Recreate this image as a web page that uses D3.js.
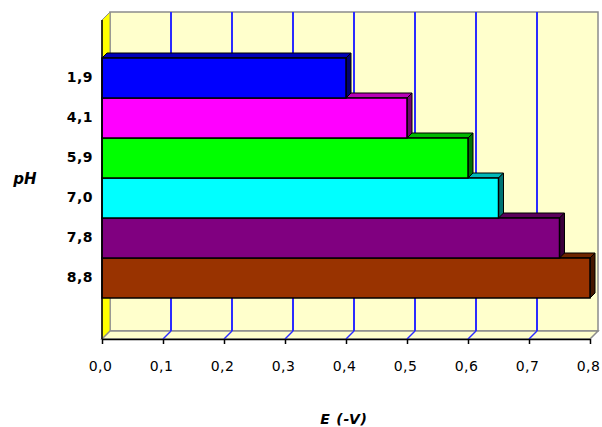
<!DOCTYPE html>
<html>
<head>
<meta charset="utf-8">
<script src="https://cdn.jsdelivr.net/npm/d3@7/dist/d3.min.js"></script>
<style>
  body { margin: 0; background: #fff; }
  text { font-family: "DejaVu Sans", sans-serif; }
</style>
</head>
<body>
<script>
// data
var phLabels = ["1,9", "4,1", "5,9", "7,0", "7,8", "8,8"];
var potentials = [0.40, 0.50, 0.60, 0.65, 0.75, 0.80];
var xTicks = [0, 0.1, 0.2, 0.3, 0.4, 0.5, 0.6, 0.7, 0.8];
var barColors = ["#0000ff", "#ff00ff", "#00ff00", "#00ffff", "#800080", "#993300"];

function init() {
    var w = 602, h = 427;
    var floorY = 339, topY = 20;
    var depth = 8;      // wall depth
    var barDepth = 5;   // bar depth

    var xScale = d3.scaleLinear()
                    .domain([0, 0.8])
                    .range([102, 590]);
    var yScale = d3.scaleBand()
                    .domain(phLabels)
                    .range([18, 338])
                    .paddingInner(0)
                    .paddingOuter(1);

    var svg = d3.select("body").append("svg")
                .attr("width", w)
                .attr("height", h);

    var x0 = xScale(0), x1 = xScale(0.8);

    // back wall
    svg.append("rect")
        .attr("x", x0 + depth).attr("y", topY - depth)
        .attr("width", x1 - x0).attr("height", floorY - topY)
        .attr("fill", "#ffffcc")
        .attr("stroke", "#8c8c8c").attr("stroke-width", 1.5);

    // left wall
    svg.append("polygon")
        .attr("points", [[x0, topY], [x0 + depth, topY - depth], [x0 + depth, floorY - depth], [x0, floorY]].join(" "))
        .attr("fill", "#ffff00")
        .attr("stroke", "#8c8c8c").attr("stroke-width", 1);

    // floor
    svg.append("polygon")
        .attr("points", [[x0, floorY], [x0 + depth, floorY - depth], [x1 + depth, floorY - depth], [x1, floorY]].join(" "))
        .attr("fill", "#ffffcc")
        .attr("stroke", "#8c8c8c").attr("stroke-width", 1.5);

    // grid lines on back wall and floor
    var inner = xTicks.filter(d => d > 0 && d < 0.8);
    svg.selectAll("line.grid")
        .data(inner).enter().append("line")
        .attr("class", "grid")
        .attr("x1", d => Math.round(xScale(d)) + depth).attr("x2", d => Math.round(xScale(d)) + depth)
        .attr("y1", topY - depth).attr("y2", floorY - depth)
        .attr("stroke", "#2b2bff").attr("stroke-width", 2);
    svg.selectAll("line.fgrid")
        .data(inner).enter().append("line")
        .attr("class", "fgrid")
        .attr("x1", d => xScale(d) + depth).attr("x2", d => xScale(d))
        .attr("y1", floorY - depth).attr("y2", floorY)
        .attr("stroke", "#2b2bff").attr("stroke-width", 1.5);

    // bars, drawn from bottom to top so upper fronts cover lower tops
    var bars = phLabels.map((p, i) => ({ph: p, v: potentials[i], c: barColors[i]})).reverse();
    var g = svg.selectAll("g.bar").data(bars).enter().append("g").attr("class", "bar");

    function shade(c, k) {
        var r = d3.rgb(c);
        return d3.rgb(r.r * k, r.g * k, r.b * k).formatHex();
    }
    // top face
    g.append("polygon")
        .attr("points", d => {
            var y = yScale(d.ph), xe = xScale(d.v);
            return [[x0, y], [x0 + barDepth, y - barDepth], [xe + barDepth, y - barDepth], [xe, y]].join(" ");
        })
        .attr("fill", d => shade(d.c, 0.72))
        .attr("stroke", "#000").attr("stroke-width", 1).attr("stroke-linejoin", "round");
    // side face
    g.append("polygon")
        .attr("points", d => {
            var y = yScale(d.ph), xe = xScale(d.v), b = y + yScale.bandwidth();
            return [[xe, y], [xe + barDepth, y - barDepth], [xe + barDepth, b - barDepth], [xe, b]].join(" ");
        })
        .attr("fill", d => shade(d.c, 0.45))
        .attr("stroke", "#000").attr("stroke-width", 1).attr("stroke-linejoin", "round");
    // front face
    g.append("rect")
        .attr("x", x0)
        .attr("y", d => yScale(d.ph))
        .attr("width", d => xScale(d.v) - x0)
        .attr("height", yScale.bandwidth())
        .attr("fill", d => d.c)
        .attr("stroke", "#000").attr("stroke-width", 1.5);

    // x axis
    var xAxis = d3.axisBottom(xScale)
                  .tickValues(xTicks)
                  .tickSize(5)
                  .tickSizeOuter(0)
                  .tickFormat(d => d3.format(".1f")(d).replace(".", ","));
    var ax = svg.append("g")
        .attr("transform", "translate(0," + floorY + ")")
        .call(xAxis);
    ax.select(".domain").attr("stroke", "#000").attr("stroke-width", 1.5);
    ax.selectAll("line").attr("stroke", "#000").attr("stroke-width", 1.5);
    ax.selectAll("text")
        .attr("y", 32).attr("dy", 0)
        .attr("dx", -2)
        .attr("fill", "#000")
        .style("font-size", "14px")
        .style("letter-spacing", "0.5px")
        .style("font-family", "DejaVu Sans, sans-serif");

    // y axis line
    svg.append("line")
        .attr("x1", x0).attr("x2", x0)
        .attr("y1", topY).attr("y2", floorY)
        .attr("stroke", "#000").attr("stroke-width", 1.5);

    var yAxis = d3.axisLeft(yScale).tickSize(0).tickPadding(9);
    var ay = svg.append("g")
        .attr("transform", "translate(" + x0 + ",0)")
        .call(yAxis);
    ay.select(".domain").remove();
    ay.selectAll("text")
        .attr("fill", "#000")
        .style("font-size", "14px")
        .style("font-weight", "bold")
        .style("letter-spacing", "0.5px")
        .style("font-family", "DejaVu Sans, sans-serif");

    // axis titles
    svg.append("text")
        .attr("x", 25).attr("y", 184)
        .attr("text-anchor", "middle")
        .style("font-size", "15px")
        .style("font-weight", "bold")
        .style("font-style", "italic")
        .text("pH");
    svg.append("text")
        .attr("x", 344).attr("y", 424)
        .attr("text-anchor", "middle")
        .style("font-size", "14px")
        .style("font-weight", "bold")
        .style("font-style", "italic")
        .style("letter-spacing", "0.8px")
        .text("E (-V)");
}
window.onload = init;
</script>
</body>
</html>
